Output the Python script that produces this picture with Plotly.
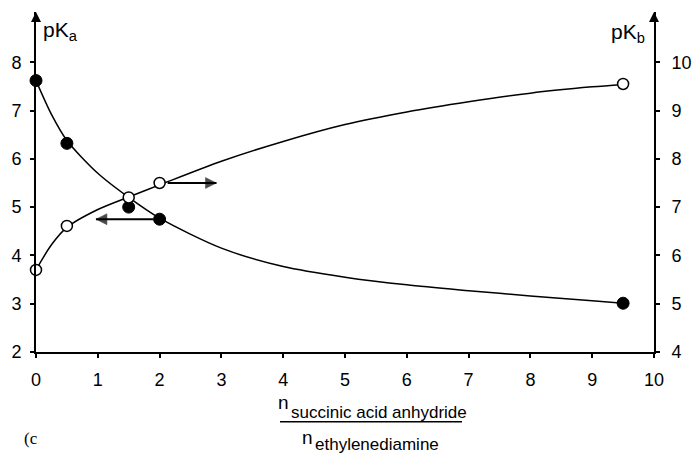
import plotly.graph_objects as go

# measured points
ratio = [0, 0.5, 1.5, 2, 9.5]
pka = [7.62, 6.32, 5.00, 4.75, 3.01]
pkb = [5.70, 6.61, 7.20, 7.50, 9.55]

# fitted curves
curve_x = [0, 0.25, 0.5, 1, 1.5, 2, 3, 4, 5, 6, 7, 8, 9, 9.5]
pka_curve = [7.62, 6.92, 6.38, 5.70, 5.20, 4.77, 4.15, 3.77, 3.55, 3.39, 3.27, 3.16, 3.06, 3.01]
pkb_curve = [5.70, 6.22, 6.58, 6.95, 7.21, 7.46, 7.95, 8.36, 8.71, 8.97, 9.18, 9.36, 9.49, 9.54]

x_ticks = list(range(0, 11))
pka_ticks = list(range(2, 9))
pkb_ticks = list(range(4, 11))

X_RANGE = [0, 10]
PKA_RANGE = [2, 9.04]
PKB_RANGE = [4, 11.04]

FONT = "Liberation Sans, Arial, sans-serif"
SERIF = "Liberation Serif, Times New Roman, serif"

fig = go.Figure()
fig.add_trace(go.Scatter(x=curve_x, y=pka_curve, mode="lines",
                         line=dict(color="black", width=1.5, shape="spline", smoothing=0.8),
                         showlegend=False, hoverinfo="skip"))
fig.add_trace(go.Scatter(x=curve_x, y=pkb_curve, mode="lines", yaxis="y2",
                         line=dict(color="black", width=1.5, shape="spline", smoothing=0.8),
                         showlegend=False, hoverinfo="skip"))

# direction arrows (pKa -> left axis, pKb -> right axis)
fig.add_trace(go.Scatter(x=[ratio[3] - 0.1, 0.97], y=[pka[3], pka[3]], mode="lines+markers",
                         line=dict(color="black", width=2),
                         marker=dict(symbol=["circle", "arrow-left"], size=[0, 11],
                                     color="black", line=dict(width=0.5, color="black")),
                         showlegend=False, hoverinfo="skip"))
fig.add_trace(go.Scatter(x=[ratio[3] + 0.13, 2.92], y=[pkb[3], pkb[3]], mode="lines+markers",
                         yaxis="y2", line=dict(color="black", width=2),
                         marker=dict(symbol=["circle", "arrow-right"], size=[0, 11],
                                     color="black", line=dict(width=0.5, color="black")),
                         showlegend=False, hoverinfo="skip"))

fig.add_trace(go.Scatter(x=ratio, y=pka, mode="markers", cliponaxis=False,
                         marker=dict(size=12, color="black", line=dict(color="black", width=1)),
                         showlegend=False))
fig.add_trace(go.Scatter(x=ratio, y=pkb, mode="markers", yaxis="y2", cliponaxis=False,
                         marker=dict(size=11, color="white", line=dict(color="black", width=1.5)),
                         showlegend=False))

# arrowheads at the top of both vertical axes
fig.add_trace(go.Scatter(x=X_RANGE, y=[PKA_RANGE[1]] * 2, mode="markers", cliponaxis=False,
                         marker=dict(symbol="arrow-up", size=10, color="black",
                                     line=dict(width=0)),
                         showlegend=False, hoverinfo="skip"))

axis_common = dict(showgrid=False, zeroline=False, showline=True, linecolor="black",
                   linewidth=2, ticks="outside", ticklen=4, tickwidth=1.5, tickcolor="black",
                   automargin=False,
                   tickfont=dict(family=FONT, size=18, color="black"))

fig.update_layout(
    width=696, height=454,
    margin=dict(l=36, r=42, t=12, b=102, autoexpand=False),
    paper_bgcolor="white", plot_bgcolor="white",
    xaxis=dict(range=X_RANGE, tickvals=x_ticks, ticklabelstandoff=6, **axis_common),
    yaxis=dict(range=PKA_RANGE, tickvals=pka_ticks, ticklabelstandoff=5, **axis_common),
    yaxis2=dict(range=PKB_RANGE, tickvals=pkb_ticks, overlaying="y", side="right",
                ticklabelstandoff=8, **axis_common),
)

# axis labels
fig.add_annotation(x=0, y=1, xref="paper", yref="paper", xanchor="left", yanchor="top",
                   xshift=5, yshift=-4, showarrow=False,
                   text="pK<sub>a</sub>", font=dict(family=FONT, size=21, color="black"))
fig.add_annotation(x=1, y=1, xref="paper", yref="paper", xanchor="right", yanchor="top",
                   xshift=-7, yshift=-6, showarrow=False,
                   text="pK<sub>b</sub>", font=dict(family=FONT, size=21, color="black"))

# x-axis title as a fraction
def txt(x, y, s, size, xanchor, family=FONT):
    fig.add_annotation(x=x, y=y, xref="paper", yref="paper", xanchor=xanchor,
                       yanchor="middle", showarrow=False, text=s,
                       font=dict(family=family, size=size, color="black"))

txt(0.3997, -0.150, "n", 19, "center")
txt(0.4094, -0.1794, "succinic acid anhydride", 17, "left")
fig.add_shape(type="line", xref="paper", yref="paper", x0=0.3948, x1=0.6893,
              y0=-0.205, y1=-0.205, line=dict(color="black", width=1.5))
txt(0.4393, -0.2515, "n", 19, "center")
txt(0.4482, -0.2715, "ethylenediamine", 17, "left")
txt(-0.0227, -0.254, "(c", 17, "left", SERIF)

fig.write_html("out.html", config={"displayModeBar": False},
               post_script="document.body.style.margin='0';document.body.style.overflow='hidden';")
